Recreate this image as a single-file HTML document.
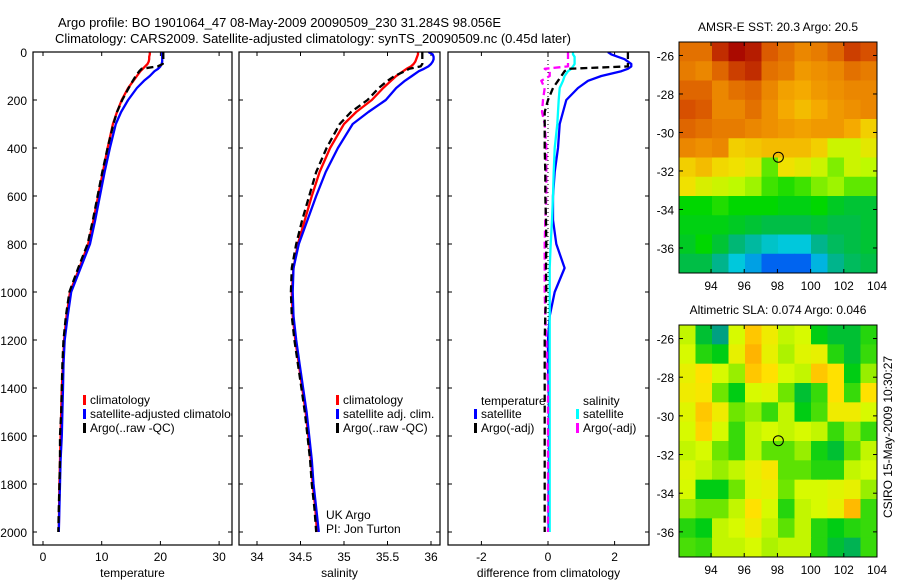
<!DOCTYPE html>
<html><head><meta charset="utf-8"><style>
body{margin:0;background:#fff;}
svg{display:block;font-family:"Liberation Sans",sans-serif;}
</style></head><body>
<svg id="fig" width="900" height="580" viewBox="0 0 900 580"></svg>
<script>
// ---- data ----
const depths=[0,10,20,30,40,50,60,70,80,100,120,150,200,250,300,400,500,600,700,800,900,1000,1100,1200,1300,1400,1500,1600,1700,1800,1900,2000];
const tempClim=[18.2,18.2,18.1,18.1,18.0,17.8,17.4,17.0,16.6,16.0,15.4,14.5,13.4,12.6,11.9,11.0,10.2,9.4,8.6,7.7,6.2,4.6,4.0,3.6,3.4,3.2,3.1,3.0,2.9,2.8,2.75,2.7];
const tempSat=[20.3,20.3,20.3,20.3,20.3,20.2,20.0,19.6,19.0,18.2,17.2,16.0,14.5,13.3,12.4,11.4,10.5,9.7,8.9,8.0,6.4,4.8,4.2,3.7,3.5,3.4,3.3,3.2,3.0,2.9,2.8,2.7];
const tempArgo=[20.5,20.5,20.5,20.5,20.4,20.4,19.5,16.8,16.4,15.8,15.3,14.6,13.5,12.6,12.0,11.0,10.1,9.3,8.5,7.6,6.0,4.5,3.9,3.5,3.3,3.2,3.1,2.9,2.9,2.8,2.7,2.6];
const salClim=[35.85,35.85,35.84,35.83,35.82,35.80,35.77,35.72,35.68,35.60,35.54,35.45,35.32,35.14,35.0,34.84,34.72,34.63,34.55,34.47,34.42,34.40,34.41,34.44,34.48,34.52,34.56,34.59,34.62,34.64,34.67,34.69];
const salSat=[35.97,36.02,36.03,36.03,36.02,36.0,35.97,35.92,35.86,35.78,35.70,35.60,35.48,35.28,35.10,34.93,34.79,34.68,34.58,34.48,34.42,34.41,34.42,34.45,34.49,34.53,34.57,34.60,34.63,34.65,34.68,34.71];
const salArgo=[35.9,35.9,35.9,35.9,35.9,35.9,35.88,35.75,35.70,35.58,35.50,35.40,35.27,35.08,34.95,34.80,34.68,34.60,34.52,34.45,34.40,34.39,34.40,34.43,34.47,34.51,34.55,34.58,34.61,34.63,34.66,34.68];
const dTempSat=[1.8,1.9,2.1,2.3,2.4,2.5,2.5,2.4,2.2,1.6,1.2,0.9,0.55,0.45,0.35,0.3,0.2,0.15,0.15,0.25,0.5,0.2,0.05,0.0,0.0,0.02,0.03,0.03,0.03,0.02,0.02,0.02];
const dTempArgo=[2.4,2.4,2.4,2.4,2.4,2.4,2.4,0.6,0.5,0.4,0.3,0.15,0.0,-0.1,-0.1,-0.1,-0.08,-0.08,-0.06,-0.05,-0.06,-0.05,-0.08,-0.1,-0.1,-0.1,-0.1,-0.1,-0.1,-0.1,-0.1,-0.1];
const dSalSat=[0.75,0.75,0.8,0.8,0.8,0.8,0.75,0.7,0.6,0.5,0.45,0.35,0.32,0.3,0.28,0.2,0.17,0.15,0.12,0.08,0.05,0.05,0.05,0.05,0.05,0.05,0.05,0.05,0.05,0.05,0.05,0.05];
const dSalArgo=[0.6,0.6,0.6,0.6,0.6,0.6,0.6,-0.1,0.05,0.05,-0.2,-0.1,-0.15,-0.18,-0.1,-0.05,-0.05,-0.05,-0.08,-0.1,-0.1,-0.1,-0.08,-0.05,-0.03,0.0,0.0,0.0,0.0,0.0,0.0,0.0];
const tempTicks=[0,10,20,30];
const salTicks=[34,34.5,35,35.5,36];
const diffTicks=[-2,0,2];
const depthTicks=[0,200,400,600,800,1000,1200,1400,1600,1800,2000];
const lonTicks=[94,96,98,100,102,104];
const latTicks=[-26,-28,-30,-32,-34,-36];
const sstGrid=[
[21.8,21.8,22.3,22.5,22.4,22.0,21.8,21.6,21.7,21.9,22.2,22.1],
[21.7,21.6,21.9,22.2,22.3,21.8,21.7,21.4,21.5,21.6,21.8,21.7],
[21.9,21.9,21.6,21.8,21.9,21.6,21.3,21.2,21.4,21.5,21.6,21.6],
[22.1,22.0,21.6,21.6,21.8,21.5,21.2,21.0,21.2,21.4,21.5,21.6],
[21.9,21.8,21.7,21.7,21.6,21.5,21.4,21.3,21.4,21.4,21.2,20.8],
[21.6,21.5,21.6,20.8,20.9,21.0,21.0,21.0,20.8,20.3,20.3,20.5],
[20.8,21.0,20.7,20.6,20.5,19.9,20.6,20.5,20.3,20.0,20.3,20.2],
[20.6,20.4,20.3,20.2,20.1,19.8,19.7,19.8,20.0,20.1,19.9,19.9],
[19.6,19.6,19.7,19.6,19.6,19.6,19.5,19.5,19.6,19.4,19.3,19.3],
[19.5,19.5,19.5,19.4,19.3,19.2,19.2,19.2,19.3,19.2,19.2,19.3],
[19.4,19.6,19.3,19.0,18.8,18.6,18.5,18.5,18.9,19.1,19.2,19.3],
[19.2,19.2,18.9,18.5,18.3,17.9,17.8,17.9,18.4,18.9,19.1,19.2]];
const slaGrid=[
[0.02,-0.1,-0.15,0.03,0.12,0.06,0.02,0.03,-0.08,-0.1,-0.1,-0.06],
[0.03,-0.06,-0.08,0.05,0.15,0.05,0.01,0.04,0.05,-0.06,-0.1,-0.05],
[0.05,0.08,0.03,0.0,0.12,0.08,0.03,0.02,0.12,0.08,-0.08,0.0],
[0.06,0.07,-0.02,-0.08,0.03,0.04,-0.02,-0.1,-0.05,0.08,-0.05,0.08],
[0.04,0.12,0.06,-0.02,0.0,-0.05,0.02,-0.08,-0.04,0.06,0.06,0.03],
[0.03,0.1,0.03,-0.05,0.02,0.03,0.02,0.03,0.02,-0.05,0.0,-0.05],
[0.02,0.03,-0.02,-0.05,0.02,-0.03,-0.03,0.0,-0.07,-0.1,-0.03,0.02],
[0.04,0.02,0.0,0.02,0.05,0.07,-0.03,-0.03,-0.06,-0.06,0.02,0.03],
[0.03,-0.08,-0.08,-0.02,0.04,0.05,-0.02,0.03,0.03,0.04,0.05,0.0],
[0.0,-0.02,-0.02,0.02,0.08,0.03,-0.06,0.02,0.03,0.05,0.14,-0.05],
[-0.06,-0.08,0.02,0.03,0.06,0.02,-0.03,0.02,-0.06,-0.08,-0.06,-0.05],
[-0.04,-0.05,0.02,0.02,0.03,0.01,0.02,0.02,-0.06,-0.1,-0.12,-0.05]];
const argoLon=98.056, argoLat=-31.284;

const NS="http://www.w3.org/2000/svg";
const svg=document.getElementById('fig');
function mk(tag,attrs,parent){const e=document.createElementNS(NS,tag);for(const k in attrs)e.setAttribute(k,attrs[k]);(parent||svg).appendChild(e);return e;}
function txt(s,x,y,anchor,parent,size){const t=mk('text',{x:x,y:y,'text-anchor':anchor||'start','font-size':size||12,fill:'#000'},parent);t.textContent=s;return t;}

const TOP=52,BOT=545;
const yD=d=>52+d*0.24;
function profilePanel(name,L,R,xf,ticks,fmt,xlabel){
  const g=mk('g',{});
  
  
  const cid='clip-'+name;
  const cp=mk('clipPath',{id:cid},g);mk('rect',{x:L,y:TOP,width:R-L,height:BOT-TOP},cp);
  mk('rect',{x:L,y:TOP,width:R-L,height:BOT-TOP,fill:'#fff',stroke:'none'},g);
  ticks.forEach(v=>{const x=xf(v);
    mk('line',{x1:x,y1:BOT,x2:x,y2:BOT-4,stroke:'#000'},g);
    mk('line',{x1:x,y1:TOP,x2:x,y2:TOP+4,stroke:'#000'},g);
    const t=txt(fmt(v),x,561,'middle',g);
    
    
  });
  depthTicks.forEach(d=>{const y=yD(d);
    mk('line',{x1:L,y1:y,x2:L+4,y2:y,stroke:'#000'},g);
    mk('line',{x1:R,y1:y,x2:R-4,y2:y,stroke:'#000'},g);
  });
  const xl=txt(xlabel,(L+R)/2,577,'middle',g);
  
  
  const inner=mk('g',{'clip-path':'url(#'+cid+')'},g);
  return {g,inner,L,R,xf};
}
function series(p,vals,color,dash,name){
  const pts=vals.map((v,i)=>p.xf(v).toFixed(1)+','+yD(depths[i]).toFixed(1)).join(' ');
  const a={points:pts,fill:'none',stroke:color,'stroke-width':2.3,'stroke-linejoin':'round'};
  if(dash)a['stroke-dasharray']=dash;
  const l=mk('polyline',a,p.inner);
  
  
}
function frame(p){mk('rect',{x:p.L,y:TOP,width:p.R-p.L,height:BOT-TOP,fill:'none',stroke:'#000','stroke-width':1.2},p.g);}
function legend(p,x,y,items){
  items.forEach((it,i)=>{
    const r=mk('rect',{x:x,y:y+i*14-9,width:3,height:10,fill:it[1]},p.inner);
    
    
    const t=txt(it[0],x+7,y+i*14,'start',p.inner);
    
    
  });
}

const t1=txt('Argo profile: BO 1901064_47 08-May-2009 20090509_230 31.284S 98.056E',58,27,'start',null,13);


const t2=txt('Climatology: CARS2009. Satellite-adjusted climatology: synTS_20090509.nc (0.45d later)',55,43,'start',null,13);



depthTicks.forEach(d=>{const t=txt(String(d),27,yD(d)+5,'end');
  
  });

const p1=profilePanel('temperature-panel',33,232,v=>43+v*5.87,tempTicks,v=>String(v),'temperature');
series(p1,tempClim,'#f00',null,'temp-climatology-line');
series(p1,tempSat,'#00f',null,'temp-satellite-line');
series(p1,tempArgo,'#000','7,4','temp-argo-line');
legend(p1,83,404,[['climatology','#f00'],['satellite-adjusted climatology','#00f'],['Argo(..raw -QC)','#000']]);
frame(p1);

const p2=profilePanel('salinity-panel',239,440,v=>257+(v-34)*87,salTicks,v=>String(v),'salinity');
series(p2,salClim,'#f00',null,'sal-climatology-line');
series(p2,salSat,'#00f',null,'sal-satellite-line');
series(p2,salArgo,'#000','7,4','sal-argo-line');
legend(p2,336,404,[['climatology','#f00'],['satellite adj. clim.','#00f'],['Argo(..raw -QC)','#000']]);
const uk=txt('UK Argo',326,519,'start',p2.inner);


const pi=txt('PI: Jon Turton',326,533,'start',p2.inner);


frame(p2);

const p3=profilePanel('diff-panel',448,649,v=>548+v*33.3,diffTicks,v=>String(v),'difference from climatology');
const zl=mk('line',{x1:548,y1:TOP,x2:548,y2:yD(2000),stroke:'#000','stroke-dasharray':'1,3'},p3.inner);


series(p3,dTempSat,'#00f',null,'diff-temp-satellite-line');
series(p3,dSalSat,'#0ff',null,'diff-sal-satellite-line');
series(p3,dSalArgo,'#f0f','7,4','diff-sal-argo-line');
series(p3,dTempArgo,'#000','7,4','diff-temp-argo-line');
const lt=txt('temperature',481,405,'start',p3.inner);


const ls=txt('salinity',583,405,'start',p3.inner);


legend(p3,474,418,[['satellite','#00f'],['Argo(-adj)','#000']]);
legend(p3,576,418,[['satellite','#0ff'],['Argo(-adj)','#f0f']]);
frame(p3);

function ramp(stops,v){
  if(v<=stops[0][0])return 'rgb('+stops[0][1]+')';
  for(let i=1;i<stops.length;i++){if(v<=stops[i][0]){const a=stops[i-1],b=stops[i],f=(v-a[0])/(b[0]-a[0]);
    return 'rgb('+a[1].map((c,k)=>Math.round(c+(b[1][k]-c)*f)).join(',')+')';}}
  return 'rgb('+stops[stops.length-1][1]+')';}
const sstStops=[[18.0,[0,100,240]],[18.5,[0,200,220]],[18.9,[0,180,140]],[19.2,[0,190,70]],[19.6,[0,215,0]],[20.2,[190,250,0]],[20.6,[240,225,0]],[21.2,[245,170,0]],[21.6,[235,135,0]],[22.1,[215,80,0]],[22.5,[170,10,0]]];
const slaStops=[[-0.15,[0,160,130]],[-0.08,[0,205,20]],[-0.02,[110,230,0]],[0.03,[215,250,0]],[0.08,[255,225,0]],[0.15,[255,180,0]]];
function mapPanel(name,title,top,bottom,grid,colorFn){
  const L=679,R=877,lon0=92.07,lon1=104,lat0=-25.3,lat1=-37.3;
  const xf=lon=>L+(lon-lon0)/(lon1-lon0)*(R-L);
  const yf=lat=>top+(lat-lat0)/(lat1-lat0)*(bottom-top);
  const g=mk('g',{});
  
  
  const cp=mk('clipPath',{id:'clip-'+name},g);mk('rect',{x:L,y:top,width:R-L,height:bottom-top},cp);
  const cells=mk('g',{'clip-path':'url(#clip-'+name+')'},g);
  const nr=grid.length,nc=grid[0].length;
  grid.forEach((row,i)=>row.forEach((v,j)=>{
    const la=lat0+(lat1-lat0)*i/nr, lo=lon0+(lon1-lon0)*j/nc;
    const x=xf(lo),y=yf(la),w=(R-L)/nc,h=(bottom-top)/nr;
    const r=mk('rect',{x:x,y:y,width:w+0.6,height:h+0.6,fill:colorFn(v)},cells);
    
    
  }));
  mk('rect',{x:L,y:top,width:R-L,height:bottom-top,fill:'none',stroke:'#000'},g);
  lonTicks.forEach(lo=>{const x=xf(lo);
    mk('line',{x1:x,y1:bottom,x2:x,y2:bottom-4,stroke:'#000'},g);
    mk('line',{x1:x,y1:top,x2:x,y2:top+4,stroke:'#000'},g);
    const t=txt(String(lo),x,bottom+17,'middle',g);
    
    });
  latTicks.forEach(la=>{const y=yf(la);
    mk('line',{x1:L,y1:y,x2:L+4,y2:y,stroke:'#000'},g);
    mk('line',{x1:R,y1:y,x2:R-4,y2:y,stroke:'#000'},g);
    const t=txt(String(la),674,y+5,'end',g);
    
    });
  const c=mk('circle',{cx:xf(argoLon),cy:yf(argoLat),r:5,fill:'none',stroke:'#000'},g);
  
  
  const tt=txt(title,778,top-11,'middle',g);
  
  
}
mapPanel('sst-map','AMSR-E SST: 20.3 Argo: 20.5',42,273,sstGrid,v=>ramp(sstStops,v));
mapPanel('sla-map','Altimetric SLA: 0.074 Argo: 0.046',325,557,slaGrid,v=>ramp(slaStops,v));
const cs=txt('CSIRO 15-May-2009 10:30:27',0,0,'middle');
cs.setAttribute('transform','translate(892,437) rotate(-90)');


</script>
</body></html>
